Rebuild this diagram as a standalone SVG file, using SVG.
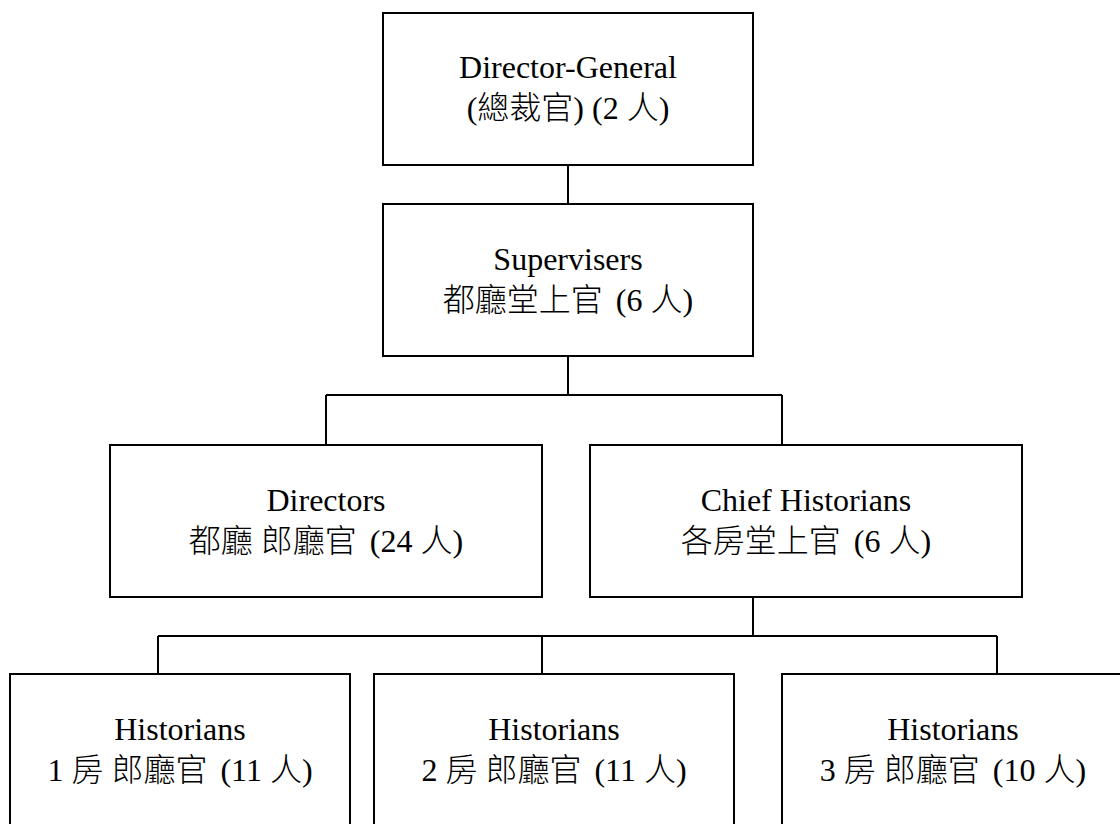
<svg xmlns="http://www.w3.org/2000/svg" width="1120" height="824" viewBox="0 0 1120 824">
  <style>
    .box { fill: #ffffff; stroke: #000000; stroke-width: 2; }
    .conn { fill: none; stroke: #000000; stroke-width: 2; }
    .lbl { font-family: "Liberation Serif", "Noto Sans CJK TC", serif; font-size: 32px; fill: #000000; text-anchor: middle; }
    .cjk { font-weight: 300; }
  </style>
  <rect x="0" y="0" width="1120" height="824" fill="#ffffff"/>
  <g id="connectors">
    <path class="conn" d="M568 165 V204"/>
    <path class="conn" d="M568 356 V395"/>
    <path class="conn" d="M326 395 H782"/>
    <path class="conn" d="M326 395 V445"/>
    <path class="conn" d="M782 395 V445"/>
    <path class="conn" d="M753 597 V636"/>
    <path class="conn" d="M158 636 H997"/>
    <path class="conn" d="M158 636 V674"/>
    <path class="conn" d="M542 636 V674"/>
    <path class="conn" d="M997 636 V674"/>
  </g>
  <g id="director-general">
    <rect class="box" x="383" y="13" width="370" height="152"/>
    <text class="lbl" x="568" y="78">Director-General</text>
    <text class="lbl cjk" x="568" y="119">(總裁官) (2 人)</text>
  </g>
  <g id="supervisers">
    <rect class="box" x="383" y="204" width="370" height="152"/>
    <text class="lbl" x="568" y="270">Supervisers</text>
    <text class="lbl cjk" x="568" y="311">都廳堂上官 <tspan dx="5">(6 人)</tspan></text>
  </g>
  <g id="directors">
    <rect class="box" x="110" y="445" width="432" height="152"/>
    <text class="lbl" x="326" y="511">Directors</text>
    <text class="lbl cjk" x="326" y="552">都廳 郎廳官 <tspan dx="5">(24 人)</tspan></text>
  </g>
  <g id="chief-historians">
    <rect class="box" x="590" y="445" width="432" height="152"/>
    <text class="lbl" x="806" y="511">Chief Historians</text>
    <text class="lbl cjk" x="806" y="552">各房堂上官 <tspan dx="5">(6 人)</tspan></text>
  </g>
  <g id="historians-1">
    <rect class="box" x="10" y="674" width="340" height="170"/>
    <text class="lbl" x="180" y="740">Historians</text>
    <text class="lbl cjk" x="180" y="781">1 房 郎廳官 <tspan dx="5">(11 人)</tspan></text>
  </g>
  <g id="historians-2">
    <rect class="box" x="374" y="674" width="360" height="170"/>
    <text class="lbl" x="554" y="740">Historians</text>
    <text class="lbl cjk" x="554" y="781">2 房 郎廳官 <tspan dx="5">(11 人)</tspan></text>
  </g>
  <g id="historians-3">
    <rect class="box" x="782" y="674" width="342" height="170"/>
    <text class="lbl" x="953" y="740">Historians</text>
    <text class="lbl cjk" x="953" y="781">3 房 郎廳官 <tspan dx="5">(10 人)</tspan></text>
  </g>
</svg>
